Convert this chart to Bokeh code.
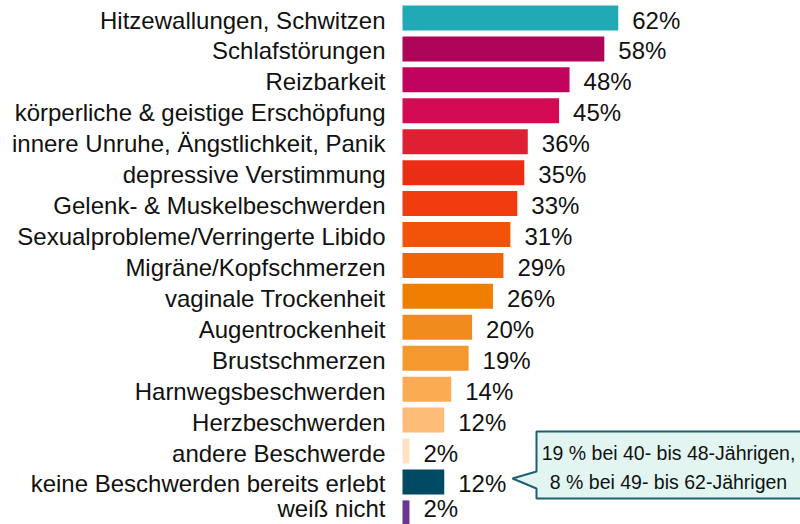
from bokeh.plotting import figure
from bokeh.models import Range1d, ColumnDataSource
from bokeh.core.properties import value
from bokeh.embed import file_html
from bokeh.resources import INLINE

categories = [
    "Hitzewallungen, Schwitzen",
    "Schlafstörungen",
    "Reizbarkeit",
    "körperliche & geistige Erschöpfung",
    "innere Unruhe, Ängstlichkeit, Panik",
    "depressive Verstimmung",
    "Gelenk- & Muskelbeschwerden",
    "Sexualprobleme/Verringerte Libido",
    "Migräne/Kopfschmerzen",
    "vaginale Trockenheit",
    "Augentrockenheit",
    "Brustschmerzen",
    "Harnwegsbeschwerden",
    "Herzbeschwerden",
    "andere Beschwerde",
    "keine Beschwerden bereits erlebt",
    "weiß nicht",
]
values = [62, 58, 48, 45, 36, 35, 33, 31, 29, 26, 20, 19, 14, 12, 2, 12, 2]
colors = [
    "#21aab5", "#ae0558", "#c2035e", "#d40a55", "#e01f33", "#eb2d16",
    "#f03c0e", "#f25308", "#f06406", "#f07e00", "#f28b1e", "#f5992e",
    "#fbab52", "#fdbd77", "#fee0c2", "#004a63", "#6b3690",
]
callout_lines = ["19 % bei 40- bis 48-Jährigen,", "8 % bei 49- bis 62-Jährigen"]
callout_row = 15

W, H = 800, 524
k = 3.48          # pixels per percent
x0 = 402          # pixel of zero
row = 30.93       # pixels per row
top = 17.5        # pixel centre of first row

FONT = "Liberation Sans"

p = figure(width=W, height=H, output_backend="svg", toolbar_location=None,
           x_range=Range1d(-x0 / k, (W - x0) / k),
           y_range=Range1d((H - top) / row, -top / row),
           min_border=0, border_fill_color="white", background_fill_color="white",
           outline_line_color=None)
p.axis.visible = False
p.grid.visible = False

idx = list(range(len(categories)))
yoff = [2] * (len(categories) - 1) + [-4]
src = ColumnDataSource(dict(y=idx, v=values, c=colors, cat=categories, yo=yoff,
                            lab=[f"{v}%" for v in values]))

p.hbar(y="y", right="v", left=0, height=25 / row, fill_color="c", line_color=None, source=src)

p.text(x=0, y="y", text="cat", source=src, x_offset=-17, y_offset="yo", text_align="right",
       text_baseline="middle", text_font=value(FONT), text_font_size="24px",
       text_color="#111111")
p.text(x="v", y="y", text="lab", source=src, x_offset=14, y_offset="yo", text_align="left",
       text_baseline="middle", text_font=value(FONT), text_font_size="24px",
       text_color="#111111")

# callout bubble
px = lambda pix: (pix - x0) / k
py = lambda pix: (pix - top) / row
tip_x = px(512)
bx_l, bx_r = px(536), px(806)
by_t, by_b = py(431), py(498)
tip_y = py(478)
xs = [tip_x, bx_l, bx_l, bx_r, bx_r, bx_l, bx_l, tip_x]
ys = [tip_y, py(488), by_b, by_b, by_t, by_t, py(471), tip_y]
p.patch(xs, ys, fill_color="#e2f5f1", line_color="#1f5f73", line_width=2)
cx = (bx_l + px(800)) / 2
p.text(x=[cx, cx], y=[py(452), py(481)], text=callout_lines, text_align="center",
       text_baseline="middle", text_font=value(FONT), text_font_size="19.5px",
       text_color="#111111")

open("out.html", "w").write(file_html(p, INLINE))
